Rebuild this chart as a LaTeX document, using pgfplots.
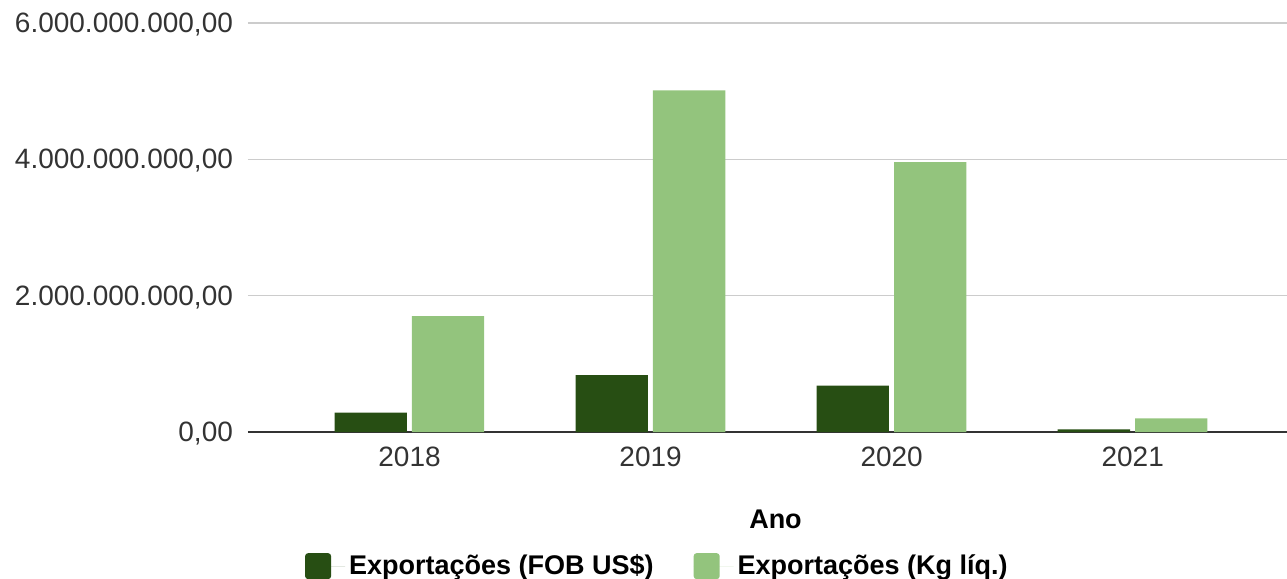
\documentclass[border=0pt]{standalone}
\usepackage{fontspec}
\setmainfont{Liberation Sans}
\usepackage{pgfplots}
\pgfplotsset{compat=1.18}
\definecolor{fobgreen}{HTML}{274E13}
\definecolor{kggreen}{HTML}{93C47D}
\definecolor{gridgray}{HTML}{CCCCCC}
\definecolor{labelgray}{HTML}{333333}
\begin{document}
\begin{tikzpicture}
\begin{axis}[
    at={(0,0)}, anchor=south west,
    scale only axis,
    width=519.5pt, height=204.5pt,
    ybar,
    bar width=0.30,
    xmin=-0.67, xmax=3.64,
    ymin=0, ymax=6e9,
    xtick={0,1,2,3},
    xticklabels={2018,2019,2020,2021},
    ytick={0,2e9,4e9,6e9},
    scaled y ticks=false,
    yticklabels={{0,00},{2.000.000.000,00},{4.000.000.000,00},{6.000.000.000,00}},
    major tick length=0pt,
    axis line style={draw=none},
    ymajorgrids,
    grid style={gridgray, line width=0.7pt},
    extra y ticks={0},
    extra y tick labels={},
    extra y tick style={grid style={labelgray, line width=0.9pt}},
    yticklabel style={font=\fontsize{14}{16}\selectfont, text=labelgray, xshift=-4pt, yshift=-0.8pt},
    xticklabel style={font=\fontsize{14}{16}\selectfont, text=labelgray, yshift=-4pt},
    xlabel={\textbf{Ano}},
    xlabel style={font=\fontsize{13.5}{16}\selectfont, yshift=-14.5pt, xshift=4pt},
    legend columns=2,
    legend style={draw=none, at={(0.395,-0.328)}, anchor=center,
        font=\fontsize{13.5}{16}\selectfont\bfseries,
        /tikz/every even column/.append style={column sep=18pt}},
    legend image code/.code={\fill[#1, rounded corners=1.5pt] (0pt,-6.5pt) rectangle (13pt,6.5pt);
        \path (0pt,0pt) -- (20pt,0pt);},
]
\addplot[fill=fobgreen, draw=none, bar shift=-0.161] coordinates {
    (0, 0.283e9)
    (1, 0.836e9)
    (2, 0.680e9)
    (3, 0.040e9)
};
\addplot[fill=kggreen, draw=none, bar shift=0.160] coordinates {
    (0, 1.700e9)
    (1, 5.010e9)
    (2, 3.960e9)
    (3, 0.200e9)
};
\legend{Exportações (FOB US\$), Exportações (Kg líq.)}
\end{axis}
\pgfresetboundingbox
\path (-124pt,-73.5pt) rectangle (519.5pt,216pt);
\end{tikzpicture}
\end{document}
